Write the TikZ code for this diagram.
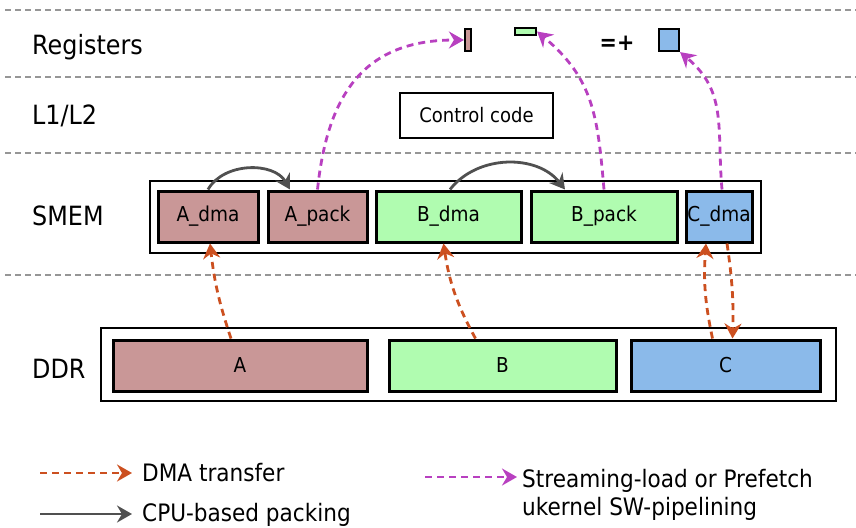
\documentclass[tikz,border=0pt]{standalone}
\usepackage{fontspec}
\setmainfont[FakeStretch=0.9]{DejaVu Sans}
\usetikzlibrary{arrows.meta}
\definecolor{pinkc}{RGB}{201,151,151}
\definecolor{greenc}{RGB}{176,252,176}
\definecolor{bluec}{RGB}{139,186,234}
\definecolor{magc}{RGB}{184,64,192}
\definecolor{orac}{RGB}{204,80,32}
\definecolor{grayarrow}{RGB}{80,80,80}
\definecolor{sepc}{RGB}{150,150,150}
\tikzset{
  sep/.style={draw=sepc, line width=2.4pt, dash pattern=on 6pt off 4pt},
  lvl/.style={anchor=base west, inner sep=0pt, font=\fontsize{26.5}{31}\selectfont},
  buf/.style={draw=black, line width=3pt, minimum height=51pt, inner sep=0pt, font=\fontsize{20.5}{24}\selectfont},
  outer/.style={draw=black, line width=2.7pt, fill=white, inner sep=0pt},
  reg/.style={draw=black, line width=2.2pt, inner sep=0pt},
  tipS/.style={-{Stealth[length=15pt,width=17pt,inset=5pt]}},
  dma/.style={tipS, draw=orac, line width=2.8pt, dash pattern=on 7pt off 5pt},
  pf/.style={tipS, draw=magc, line width=2.8pt, dash pattern=on 7pt off 5pt},
  pack/.style={tipS, draw=grayarrow, line width=2.8pt},
  legtxt/.style={anchor=base west, inner sep=0pt, font=\fontsize{24}{28}\selectfont},
}
\begin{document}
\begin{tikzpicture}[x=1pt,y=-1pt]
\useasboundingbox (0,0) rectangle (856,527);
% separators
\coordinate (s1a) at (5,10);  \coordinate (s1b) at (856,10);
\coordinate (s2a) at (5,77);  \coordinate (s2b) at (856,77);
\coordinate (s3a) at (5,153); \coordinate (s3b) at (856,153);
\coordinate (s4a) at (5,275); \coordinate (s4b) at (856,275);
\draw[sep] (s1a) -- (s1b);
\draw[sep] (s2a) -- (s2b);
\draw[sep] (s3a) -- (s3b);
\draw[sep] (s4a) -- (s4b);
% level labels
\node[lvl] (lreg) at (32,55) {Registers};
\node[lvl] (ll12) at (32,124) {L1/L2};
\node[lvl] (lsmem) at (32,225) {SMEM};
\node[lvl] (lddr) at (32,378) {DDR};
% registers
\node[reg, fill=pinkc, minimum width=6pt, minimum height=22pt] (ra) at (468,40) {};
\node[reg, fill=greenc, minimum width=21pt, minimum height=7pt] (rb) at (525.5,31.5) {};
\node[reg, fill=bluec, minimum width=20pt, minimum height=22pt] (rc) at (669,40) {};
\node[inner sep=0pt, font=\bfseries\fontsize{23}{27}\selectfont] (eq) at (617,43) {=+};
% control code
\node[draw=black, line width=2.7pt, minimum width=153pt, minimum height=45pt, inner sep=0pt, font=\fontsize{20}{24}\selectfont] (ctrl) at (476.5,115.5) {Control code};
% SMEM
\node[outer, minimum width=611pt, minimum height=72pt] (smem) at (455.5,217) {};
\node[buf, fill=pinkc, minimum width=100pt] (adma) at (208,216.5) {A\_dma};
\node[buf, fill=pinkc, minimum width=99pt] (apack) at (317.5,216.5) {A\_pack};
\node[buf, fill=greenc, minimum width=145pt] (bdma) at (448.5,216.5) {B\_dma};
\node[buf, fill=greenc, minimum width=146pt] (bpack) at (604,216.5) {B\_pack};
\node[buf, fill=bluec, minimum width=66pt] (cdma) at (719,216.5) {C\_dma};
% DDR
\node[outer, minimum width=735pt, minimum height=73pt] (ddr) at (468.5,364.5) {};
\node[buf, fill=pinkc, minimum width=254pt] (A) at (240,365.5) {A};
\node[buf, fill=greenc, minimum width=227pt] (B) at (502.5,365.5) {B};
\node[buf, fill=bluec, minimum width=189pt] (C) at (725.5,365.5) {C};
% CPU packing arrows
\draw[pack] (adma.north) to[out=60,in=120] ([xshift=-27.5pt]apack.north);
\draw[pack] ([xshift=1.5pt]bdma.north) to[out=52,in=128] ([xshift=-39pt]bpack.north);
% prefetch arrows
\draw[pf] (apack.north) to[out=84,in=180,looseness=1.2] (ra.west);
\draw[pf] (bpack.north) to[out=95,in=-40,looseness=1.1] (rb.east);
\draw[pf] ([xshift=3pt]cdma.north) to[out=95,in=-40,looseness=1.1] (rc.south east);
% DMA arrows
\draw[dma] ([xshift=-9pt]A.north) to[bend left=6] ([xshift=2pt]adma.south);
\draw[dma] ([xshift=-27pt]B.north) to[bend left=10] ([xshift=-5pt]bdma.south);
\draw[dma] ([xshift=-13pt]C.north) to[bend left=8] ([xshift=-13pt]cdma.south);
\draw[dma] ([xshift=8pt]cdma.south) to[bend left=5] ([xshift=7pt]C.north);
% legend
\coordinate (l1a) at (40,473); \coordinate (l1b) at (132,473);
\coordinate (l2a) at (40,514); \coordinate (l2b) at (132,514);
\coordinate (l3a) at (425,477); \coordinate (l3b) at (517,477);
\draw[dma] (l1a) -- (l1b);
\draw[pack] (l2a) -- (l2b);
\draw[pf] (l3a) -- (l3b);
\node[legtxt] (t1) at (142,481) {DMA transfer};
\node[legtxt] (t2) at (142,521) {CPU-based packing};
\node[legtxt] (t3) at (522,487) {Streaming-load or Prefetch};
\node[legtxt] (t4) at (522,515) {ukernel SW-pipelining};
\end{tikzpicture}
\end{document}
